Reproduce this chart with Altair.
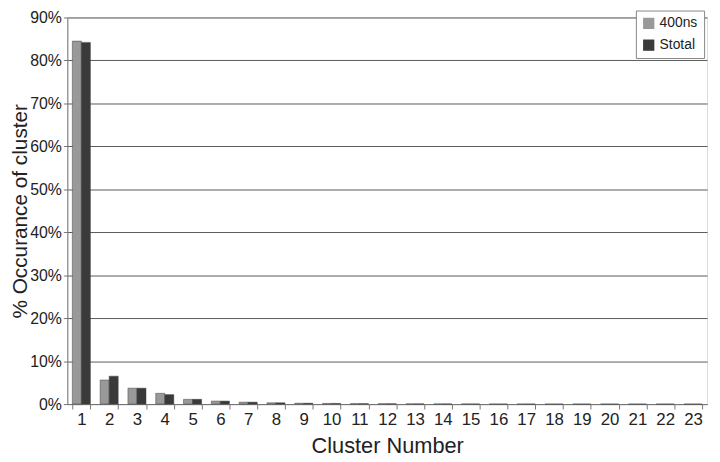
import altair as alt
import pandas as pd

clusters = list(range(1, 24))
series_names = ["400ns", "Stotal"]
vals_400ns = [84.5, 5.6, 3.7, 2.5, 1.1, 0.7, 0.45, 0.3, 0.2, 0.15, 0.1, 0.08, 0.05,
              0.04, 0.03, 0.02, 0.02, 0.01, 0.01, 0.01, 0.01, 0.01, 0.01]
vals_stotal = [84.2, 6.5, 3.7, 2.2, 1.1, 0.7, 0.45, 0.3, 0.2, 0.15, 0.1, 0.08, 0.05,
               0.04, 0.03, 0.02, 0.02, 0.01, 0.01, 0.01, 0.01, 0.01, 0.01]
y_ticks = [i / 10 for i in range(10)]

rows = []
for c, a, b in zip(clusters, vals_400ns, vals_stotal):
    rows.append({"cluster": str(c), "series": "400ns", "value": a / 100})
    rows.append({"cluster": str(c), "series": "Stotal", "value": b / 100})
df = pd.DataFrame(rows)

FONT = "Liberation Sans"

chart = alt.Chart(df).mark_bar(stroke="#444", strokeWidth=0.5).encode(
    x=alt.X("cluster:N", sort=[str(c) for c in clusters],
            scale=alt.Scale(paddingInner=0.35, paddingOuter=0.18),
            axis=alt.Axis(title="Cluster Number", labelAngle=0, tickBand="extent",
                          labelFontSize=17, titleFontSize=22, titleFontWeight="normal",
                          labelPadding=3, titlePadding=8, tickSize=5,
                          domainColor="#777", tickColor="#777", labelColor="#222",
                          titleColor="#222", grid=False)),
    xOffset=alt.XOffset("series:N", sort=series_names),
    y=alt.Y("value:Q", scale=alt.Scale(domain=[0, 0.9]),
            axis=alt.Axis(title="% Occurance of cluster", format=".0%", values=y_ticks + [0.9],
                          labelFontSize=16, titleFontSize=21, titleFontWeight="normal",
                          tickSize=4, labelPadding=2, titleX=-47, titleBaseline="middle",
                          domainColor="#777", tickColor="#777", gridColor="#5a5a5a",
                          labelColor="#222", titleColor="#222")),
    color=alt.Color("series:N", sort=series_names,
                    scale=alt.Scale(domain=series_names, range=["#999999", "#3a3a3a"]),
                    legend=alt.Legend(title=None, orient="none", legendX=575, legendY=-7,
                                      symbolType="square", symbolSize=130,
                                      symbolStrokeWidth=0, labelFontSize=14,
                                      labelColor="#222", rowPadding=8, padding=6,
                                      strokeColor="#888", fillColor="white")),
).properties(
    width=647, height=391,
    padding={"left": 60, "top": 7, "right": 5, "bottom": 56},
    autosize=alt.AutoSizeParams(type="none"),
).configure_view(
    stroke=None
).configure(font=FONT)

chart.save("out.html", embed_options={"renderer": "svg", "actions": False})
